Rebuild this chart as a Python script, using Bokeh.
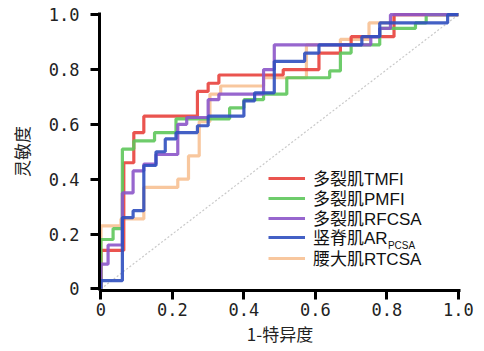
from bokeh.plotting import figure
from bokeh.models import Range1d, FixedTicker, Legend, LegendItem, Label
from bokeh.embed import file_html
from bokeh.resources import INLINE

# ROC step vertices (1-specificity, sensitivity)
tmfi_fpr = [0, 0, 0.064, 0.064, 0.092, 0.092, 0.12, 0.12, 0.27, 0.27, 0.30, 0.30, 0.33, 0.33, 0.51, 0.51, 0.61, 0.61, 0.67, 0.67, 0.70, 0.70, 0.82, 0.82, 1.0]
tmfi_tpr = [0, 0.14, 0.14, 0.46, 0.46, 0.57, 0.57, 0.63, 0.63, 0.72, 0.72, 0.75, 0.75, 0.78, 0.78, 0.80, 0.80, 0.86, 0.86, 0.89, 0.89, 0.92, 0.92, 1.0, 1.0]

pmfi_fpr = [0, 0, 0.034, 0.034, 0.06, 0.06, 0.092, 0.092, 0.15, 0.15, 0.21, 0.21, 0.36, 0.36, 0.40, 0.40, 0.455, 0.455, 0.52, 0.52, 0.64, 0.64, 0.67, 0.67, 0.70, 0.70, 0.78, 0.78, 0.88, 0.88, 0.91, 0.91, 1.0]
pmfi_tpr = [0, 0.18, 0.18, 0.22, 0.22, 0.51, 0.51, 0.54, 0.54, 0.57, 0.57, 0.62, 0.62, 0.66, 0.66, 0.69, 0.69, 0.71, 0.71, 0.77, 0.77, 0.795, 0.795, 0.86, 0.86, 0.89, 0.89, 0.95, 0.95, 0.97, 0.97, 1.0, 1.0]

rfcsa_fpr = [0, 0, 0.02, 0.02, 0.06, 0.06, 0.09, 0.09, 0.12, 0.12, 0.154, 0.154, 0.215, 0.215, 0.24, 0.24, 0.30, 0.30, 0.33, 0.33, 0.455, 0.455, 0.485, 0.485, 0.755, 0.755, 0.78, 0.78, 0.81, 0.81, 1.0]
rfcsa_tpr = [0, 0.09, 0.09, 0.16, 0.16, 0.35, 0.35, 0.43, 0.43, 0.455, 0.455, 0.49, 0.49, 0.60, 0.60, 0.625, 0.625, 0.69, 0.69, 0.71, 0.71, 0.80, 0.80, 0.89, 0.89, 0.92, 0.92, 0.95, 0.95, 1.0, 1.0]

arpcsa_fpr = [0, 0, 0.06, 0.06, 0.09, 0.09, 0.12, 0.12, 0.154, 0.154, 0.18, 0.18, 0.21, 0.21, 0.27, 0.27, 0.30, 0.30, 0.40, 0.40, 0.43, 0.43, 0.485, 0.485, 0.57, 0.57, 0.61, 0.61, 0.73, 0.73, 0.78, 0.78, 0.97, 0.97, 1.0]
arpcsa_tpr = [0, 0.03, 0.03, 0.26, 0.26, 0.285, 0.285, 0.45, 0.45, 0.50, 0.50, 0.547, 0.547, 0.57, 0.57, 0.595, 0.595, 0.63, 0.63, 0.686, 0.686, 0.715, 0.715, 0.83, 0.83, 0.86, 0.86, 0.89, 0.89, 0.92, 0.92, 0.97, 0.97, 1.0, 1.0]

rtcsa_fpr = [0, 0, 0.056, 0.056, 0.12, 0.12, 0.215, 0.215, 0.245, 0.245, 0.275, 0.275, 0.305, 0.305, 0.335, 0.335, 0.455, 0.455, 0.575, 0.575, 0.67, 0.67, 0.75, 0.75, 0.82, 0.82, 1.0]
rtcsa_tpr = [0, 0.23, 0.23, 0.255, 0.255, 0.37, 0.37, 0.40, 0.40, 0.485, 0.485, 0.61, 0.61, 0.71, 0.71, 0.74, 0.74, 0.77, 0.77, 0.89, 0.89, 0.91, 0.91, 0.97, 0.97, 1.0, 1.0]

diag_x = [0, 1]
diag_y = [0, 1]

series_names = ["多裂肌TMFI", "多裂肌PMFI", "多裂肌RFCSA", "竖脊肌AR", "腰大肌RTCSA"]
series_sub = ["", "", "", "PCSA", ""]
series_colors = ["#e8413c", "#5ec75b", "#8c55c9", "#2f4fbf", "#f7c194"]

tick_values = [0, 0.2, 0.4, 0.6, 0.8, 1.0]
tick_labels = ["0", "0.2", "0.4", "0.6", "0.8", "1.0"]

x_label = "1-特异度"
y_label = "灵敏度"

LEGEND_FONT = "Liberation Sans, Noto Sans CJK SC"

p = figure(width=482, height=350, output_backend="svg", toolbar_location=None,
           x_range=Range1d(-0.004, 1.006), y_range=Range1d(-0.006, 1.008),
           min_border_left=99, min_border_right=22, min_border_top=12, min_border_bottom=60)
p.outline_line_color = None
p.xgrid.visible = False
p.ygrid.visible = False
p.background_fill_color = "white"
p.border_fill_color = "white"

p.line(diag_x, diag_y, line_color="#c9c9c9", line_width=1.2, line_dash="2 2")

xs = [tmfi_fpr, pmfi_fpr, rfcsa_fpr, arpcsa_fpr, rtcsa_fpr]
ys = [tmfi_tpr, pmfi_tpr, rfcsa_tpr, arpcsa_tpr, rtcsa_tpr]
renderers = {}
for i in [4, 0, 1, 2, 3]:
    renderers[i] = p.line(xs[i], ys[i], line_color=series_colors[i], line_width=3.2, line_alpha=0.9)

# one single-row legend per series so rows sit 20 px apart as in the original
row_offsets = [100, 80, 60, 41, 20]
for i, name in enumerate(series_names):
    lg = Legend(items=[LegendItem(label=name, renderers=[renderers[i]])],
                location=(169, row_offsets[i]), padding=0, margin=0, spacing=0,
                glyph_width=37, glyph_height=20, label_height=20, label_standoff=8,
                label_text_font=LEGEND_FONT, label_text_font_size="17px",
                label_text_color="#111111", border_line_color=None,
                background_fill_alpha=0)
    p.add_layout(lg, "center")

sub = Label(x=0.803, y=0.158, text=series_sub[3], text_font=LEGEND_FONT,
            text_font_size="10px", text_color="#111111", text_baseline="alphabetic")
p.add_layout(sub)

for ax in (p.xaxis[0], p.yaxis[0]):
    ax.ticker = FixedTicker(ticks=tick_values)
    ax.major_label_overrides = {v: l for v, l in zip(tick_values, tick_labels)}
    ax.axis_line_width = 3
    ax.axis_line_color = "black"
    ax.major_tick_line_width = 3
    ax.major_tick_line_color = "black"
    ax.major_tick_out = 9
    ax.major_tick_in = 0
    ax.minor_tick_out = 0
    ax.minor_tick_in = 0
    ax.major_label_text_font = "DejaVu Sans Mono"
    ax.major_label_text_font_size = "17px"
    ax.major_label_text_color = "#222222"
    ax.axis_label_text_font = "Noto Sans CJK SC"
    ax.axis_label_text_font_size = "17px"
    ax.axis_label_text_font_style = "normal"
    ax.axis_label_text_color = "#222222"

p.xaxis[0].axis_label = x_label
p.yaxis[0].axis_label = y_label
p.xaxis[0].major_label_standoff = 3
p.yaxis[0].major_label_standoff = 11
p.xaxis[0].axis_label_standoff = 2
p.yaxis[0].axis_label_standoff = 12

open("out.html", "w").write(file_html(p, INLINE))
